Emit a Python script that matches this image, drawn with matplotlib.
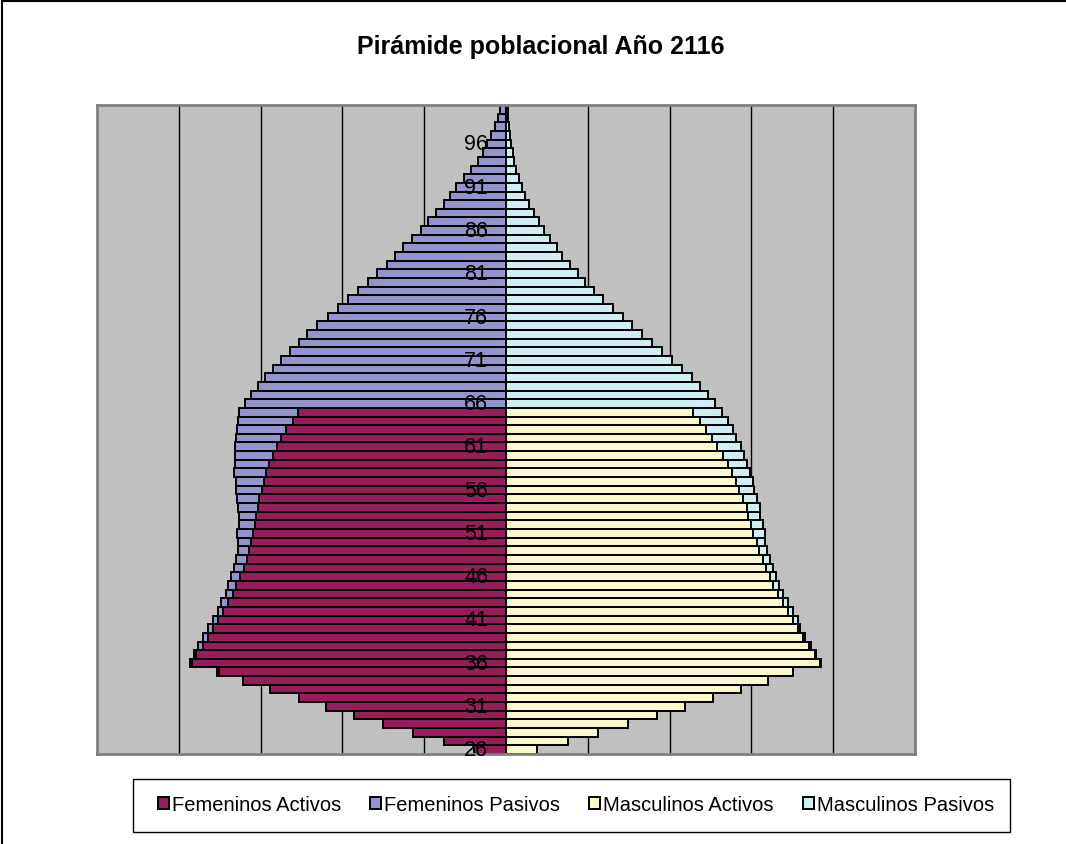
import numpy as np
import matplotlib
matplotlib.use("Agg")
import matplotlib.pyplot as plt
from matplotlib.lines import Line2D
from matplotlib.patches import Rectangle

plt.rcParams['font.family'] = ['Liberation Sans', 'DejaVu Sans']

# ages 26..100, widths (one grid step = 82)
ages = list(range(26, 101))

fem_activos = [32, 62, 93, 123, 152, 180, 208, 237, 264, 288,
               315, 311, 304, 299, 294, 289, 284, 279, 274, 271,
               267, 263, 260, 258, 256, 254, 252, 251, 249, 248,
               245, 243, 241, 238, 234, 230, 226, 221, 214, 209] + [0] * 35

fem_pasivos = [0] * 9 + [2, 2, 2, 5, 5, 5, 5, 5, 7, 7,
                         8, 9, 10, 11, 11, 13, 16, 16, 17, 20,
                         22, 26, 28, 32, 34, 38, 42, 45, 49, 55, 59,
                         262, 256, 249, 242, 234, 226, 217, 208, 199, 189,
                         178, 168, 158, 148, 138, 129, 119, 111, 103, 94,
                         85, 78, 70, 62, 56, 50, 42, 35, 28, 23,
                         19, 15, 11, 8, 6]

masc_activos = [31, 62, 92, 122, 151, 179, 208, 236, 263, 288,
                315, 310, 304, 298, 293, 288, 283, 278, 273, 268,
                265, 261, 258, 254, 252, 248, 246, 243, 242, 238,
                234, 231, 227, 223, 218, 212, 207, 200, 194, 187] + [0] * 35

masc_pasivos = [0] * 10 + [1, 1, 2, 2, 2, 5, 5, 5, 5, 6,
                           6, 7, 7, 8, 8, 12, 12, 12, 13, 14,
                           15, 17, 18, 19, 21, 24, 24, 28, 29, 30,
                           210, 202, 194, 186, 176, 166, 156, 146, 136, 126,
                           117, 107, 97, 88, 79, 72, 64, 56, 51, 44,
                           38, 33, 28, 23, 19, 16, 13, 10, 8, 7,
                           5, 4, 3, 2, 2]

labels = ["Femeninos Activos", "Femeninos Pasivos",
          "Masculinos Activos", "Masculinos Pasivos"]
colors = ["#961E5C", "#9494CC", "#FBF8CC", "#CFEEF4"]

fa = np.array(fem_activos)
fp = np.array(fem_pasivos)
ma = np.array(masc_activos)
mp = np.array(masc_pasivos)
y = np.array(ages)

fig = plt.figure(figsize=(10.66, 8.45), dpi=100)
ax = fig.add_axes([97 / 1066, 90 / 845, 818 / 1066, 649 / 845])
ax.set_facecolor("#C0C0C0")

step = 82
for gx in np.arange(-4, 5) * step:
    if gx != 0:
        ax.axvline(gx, color="black", lw=1.0, zorder=1)

kw = dict(height=1.0, edgecolor="black", linewidth=1.4, zorder=2)
b1 = ax.barh(y, -fa, color=colors[0], **kw)
b2 = ax.barh(y, -fp, left=-fa, color=colors[1], **kw)
b3 = ax.barh(y, ma, color=colors[2], **kw)
b4 = ax.barh(y, mp, left=ma, color=colors[3], **kw)

for a in ages[::5]:
    ax.text(-18, a, str(a), ha="right", va="center", fontsize=15.5,
            color="black", zorder=3)

ax.set_xlim(-5 * step, 5 * step)
ax.set_ylim(25.5, 100.5)
ax.set_xticks([])
ax.set_yticks([])
for s in ax.spines.values():
    s.set_color("#808080")
    s.set_linewidth(2)

fig.text(541 / 1066, 1 - 47 / 845, "Pirámide poblacional Año 2116",
         ha="center", va="center", fontsize=18, fontweight="bold")

# legend box drawn separately so it can match the original frame size
fig.add_artist(Rectangle((133 / 1066, 1 - 833 / 845), 877 / 1066, 53 / 845,
                         transform=fig.transFigure, facecolor="white",
                         edgecolor="black", lw=1.0, zorder=1))
leg = fig.legend([b1, b2, b3, b4], labels, loc="center",
                 bbox_to_anchor=(576 / 1066, 1 - 806 / 845),
                 ncol=4, fontsize=14.5, frameon=False,
                 handlelength=0.55, handleheight=0.55, handletextpad=0.15,
                 borderpad=0, borderaxespad=0, columnspacing=1.45)
leg.set_zorder(2)

# chart area border (only left and top visible in the original crop)
fig.add_artist(Line2D([2 / 1066, 2 / 1066], [0, 1 - 2 / 845], color="black", lw=1.5))
fig.add_artist(Line2D([2 / 1066, 1], [1 - 2 / 845, 1 - 2 / 845], color="black", lw=1.5))

fig.savefig("out.png", dpi=100)
